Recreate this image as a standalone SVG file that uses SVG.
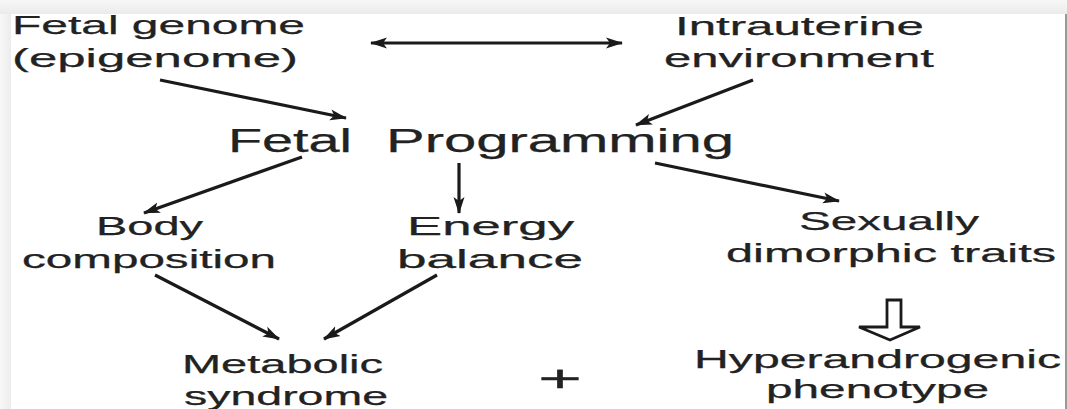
<svg xmlns="http://www.w3.org/2000/svg" width="1067" height="409" viewBox="0 0 1067 409">
<style>
  text { font-family: "Liberation Sans", Arial, sans-serif; fill: #222222; stroke: #222222; stroke-width: 0.25; }
  .t { font-size: 26px; }
  .big { font-size: 33px; }
  .m { font-size: 25px; }
  .c { stroke: #1a1a1a; stroke-width: 3.2; fill: none; }
</style>
<defs>
  <linearGradient id="topg" x1="0" y1="0" x2="0" y2="1">
    <stop offset="0" stop-color="#f7f7f7"/>
    <stop offset="1" stop-color="#ebebeb"/>
  </linearGradient>
  <linearGradient id="leftg" x1="0" y1="0" x2="1" y2="0">
    <stop offset="0" stop-color="#f8f8f8"/>
    <stop offset="1" stop-color="#ececec"/>
  </linearGradient>
  <marker id="ah" markerUnits="userSpaceOnUse" markerWidth="18" markerHeight="12" refX="16" refY="6" orient="auto-start-reverse">
    <path d="M0,0.5 L17,6 L0,11.5 L4,6 z" fill="#1a1a1a"/>
  </marker>
</defs>
<rect x="0" y="0" width="1067" height="409" fill="#ffffff"/>
<rect x="0" y="0" width="1067" height="14" fill="url(#topg)"/>
<rect x="0" y="14" width="11" height="395" fill="url(#leftg)"/>
<rect x="1065" y="14" width="2" height="395" fill="#9a9a9a"/>

<g id="connectors">
  <line class="c" x1="371" y1="43" x2="622" y2="43" marker-start="url(#ah)" marker-end="url(#ah)"/>
  <line class="c" x1="160" y1="80" x2="346" y2="118" marker-end="url(#ah)"/>
  <line class="c" x1="753" y1="80" x2="636" y2="125" marker-end="url(#ah)"/>
  <line class="c" x1="302" y1="157" x2="144" y2="213" marker-end="url(#ah)"/>
  <line class="c" x1="459" y1="163" x2="459" y2="213" marker-end="url(#ah)"/>
  <line class="c" x1="655" y1="163" x2="839" y2="201" marker-end="url(#ah)"/>
  <line class="c" x1="155" y1="275" x2="279" y2="339" marker-end="url(#ah)"/>
  <line class="c" x1="437" y1="275" x2="324" y2="339" marker-end="url(#ah)"/>
  <polygon points="887,300 901,300 901,327 920,327 890,340 859,327 887,327" fill="#ffffff" stroke="#1a1a1a" stroke-width="2.8" stroke-linejoin="miter"/>
</g>

<g id="fetal-genome">
  <text class="t" x="12" y="34" textLength="293" lengthAdjust="spacingAndGlyphs">Fetal genome</text>
  <text class="t" x="12" y="67" textLength="286" lengthAdjust="spacingAndGlyphs">(epigenome)</text>
</g>
<g id="intrauterine">
  <text class="t" x="675" y="35" textLength="249" lengthAdjust="spacingAndGlyphs">Intrauterine</text>
  <text class="t" x="664" y="67" textLength="270" lengthAdjust="spacingAndGlyphs">environment</text>
</g>
<g id="fetal-programming">
  <text class="big" x="228" y="152" textLength="124" lengthAdjust="spacingAndGlyphs">Fetal</text>
  <text class="big" x="386" y="152" textLength="348" lengthAdjust="spacingAndGlyphs">Programming</text>
</g>
<g id="body-composition">
  <text class="m" x="96" y="235" textLength="107" lengthAdjust="spacingAndGlyphs">Body</text>
  <text class="m" x="22" y="268" textLength="254" lengthAdjust="spacingAndGlyphs">composition</text>
</g>
<g id="energy-balance">
  <text class="m" x="407" y="235" textLength="167" lengthAdjust="spacingAndGlyphs">Energy</text>
  <text class="m" x="397" y="268" textLength="186" lengthAdjust="spacingAndGlyphs">balance</text>
</g>
<g id="sexually-dimorphic">
  <text class="m" x="799" y="230" textLength="180" lengthAdjust="spacingAndGlyphs">Sexually</text>
  <text class="m" x="726" y="262" textLength="330" lengthAdjust="spacingAndGlyphs">dimorphic traits</text>
</g>
<g id="metabolic-syndrome">
  <text class="m" x="182" y="373" textLength="201" lengthAdjust="spacingAndGlyphs">Metabolic</text>
  <text class="m" x="184" y="405" textLength="204" lengthAdjust="spacingAndGlyphs">syndrome</text>
</g>
<g id="plus">
  <text x="538" y="391" font-size="36" textLength="44" lengthAdjust="spacingAndGlyphs">+</text>
</g>
<g id="hyperandrogenic">
  <text class="m" x="694" y="368" textLength="367" lengthAdjust="spacingAndGlyphs">Hyperandrogenic</text>
  <text class="m" x="766" y="398" textLength="223" lengthAdjust="spacingAndGlyphs">phenotype</text>
</g>
</svg>
